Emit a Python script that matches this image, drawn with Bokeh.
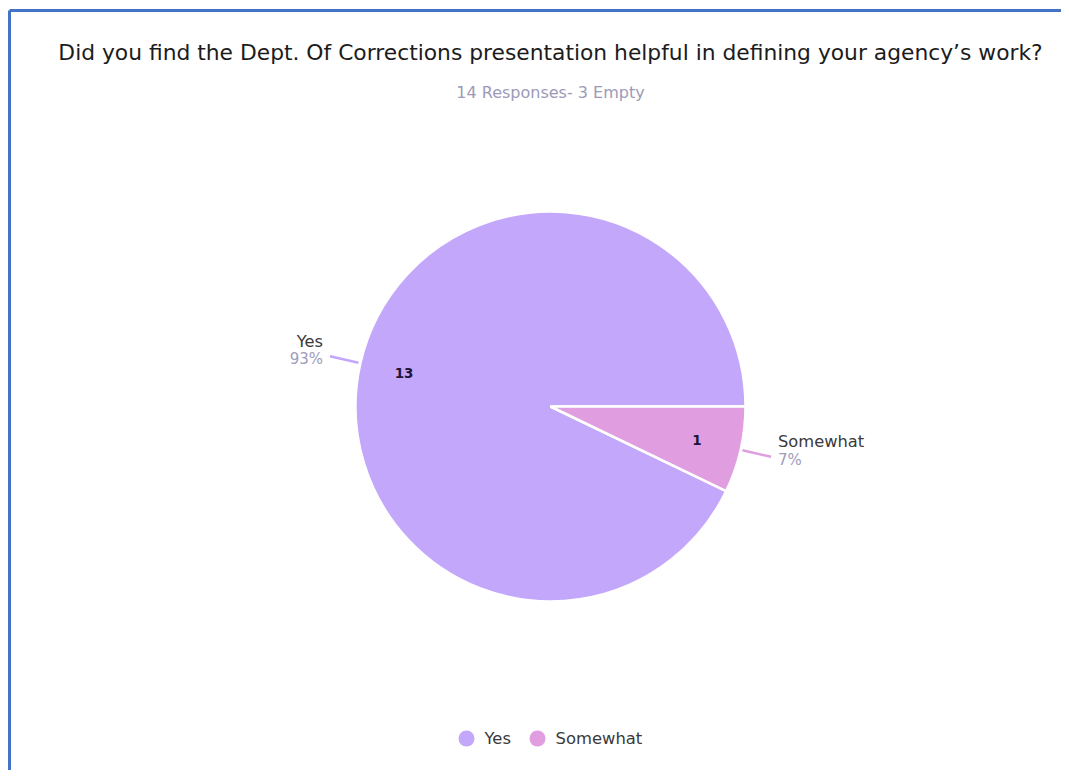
import math
from bokeh.plotting import figure
from bokeh.models import Range1d
from bokeh.core.properties import value
from bokeh.embed import file_html
from bokeh.resources import INLINE

# ---- data ----
categories = ["Yes", "Somewhat"]
counts = [13, 1]
colors = ["#C3A7FB", "#E09EE0"]
title_text = "Did you find the Dept. Of Corrections presentation helpful in defining your agency\u2019s work?"
subtitle_text = "14 Responses- 3 Empty"

W, H = 1061, 770
p = figure(width=W, height=H, output_backend="svg", toolbar_location=None,
           x_range=Range1d(0, W), y_range=Range1d(0, H),
           min_border=0, outline_line_color=None)
p.axis.visible = False
p.grid.visible = False
p.background_fill_color = "white"
p.border_fill_color = "white"

def Y(img_y):
    return H - img_y

# border (left and top)
p.line([9, 9], [Y(800), Y(10)], line_color="#4472C4", line_width=3)
p.line([9, W], [Y(10), Y(10)], line_color="#4472C4", line_width=3)

FONT = value("DejaVu Sans")

# title
p.text(x=[550], y=[Y(52)], text=[title_text], text_align="center", text_baseline="middle",
       text_font=FONT, text_font_size="21.8px", text_color="#1c1c1c")
p.text(x=[550], y=[Y(92)], text=[subtitle_text], text_align="center", text_baseline="middle",
       text_font=FONT, text_font_size="16px", text_color="#9c9ab8")

# pie
cx, cy, r = 550, Y(406), 195
total = sum(counts)
start = 0.0
for cat, n, col in zip(categories, counts, colors):
    end = start + 2 * math.pi * n / total
    p.wedge(x=[cx], y=[cy], radius=r, start_angle=[start], end_angle=[end],
            fill_color=col, line_color="white", line_width=2.5)
    mid = (start + end) / 2
    # inner count label
    p.text(x=[cx + 0.77 * r * math.cos(mid)], y=[cy + 0.77 * r * math.sin(mid)], text=[str(n)],
           text_align="center", text_baseline="middle", text_font=FONT,
           text_font_size="13.5px", text_font_style="bold", text_color="#1e1436")
    # leader line (radial)
    x1, y1 = cx + 1.01 * r * math.cos(mid), cy + 1.01 * r * math.sin(mid)
    x2, y2 = cx + 1.16 * r * math.cos(mid), cy + 1.16 * r * math.sin(mid)
    p.line([x1, x2], [y1, y2], line_color=col, line_width=2.5)
    pct = f"{round(100 * n / total)}%"
    if math.cos(mid) < 0:
        tx, align = x2 - 7, "right"
    else:
        tx, align = x2 + 7, "left"
    p.text(x=[tx], y=[y2 + 15], text=[cat], text_align=align, text_baseline="middle",
           text_font=FONT, text_font_size="16.3px", text_color="#3a3a3a")
    p.text(x=[tx], y=[y2 - 3], text=[pct], text_align=align, text_baseline="middle",
           text_font=FONT, text_font_size="15px", text_color="#a09cbc")
    start = end

# legend
lx = [466, 537]
for x0, cat, col in zip(lx, categories, colors):
    p.scatter(x=[x0], y=[Y(738)], size=16, marker="circle", fill_color=col, line_color=None)
    p.text(x=[x0 + 18], y=[Y(738)], text=[cat], text_align="left", text_baseline="middle",
           text_font=FONT, text_font_size="16.4px", text_color="#3a3a3a")

open("out.html", "w").write(file_html(p, INLINE))
